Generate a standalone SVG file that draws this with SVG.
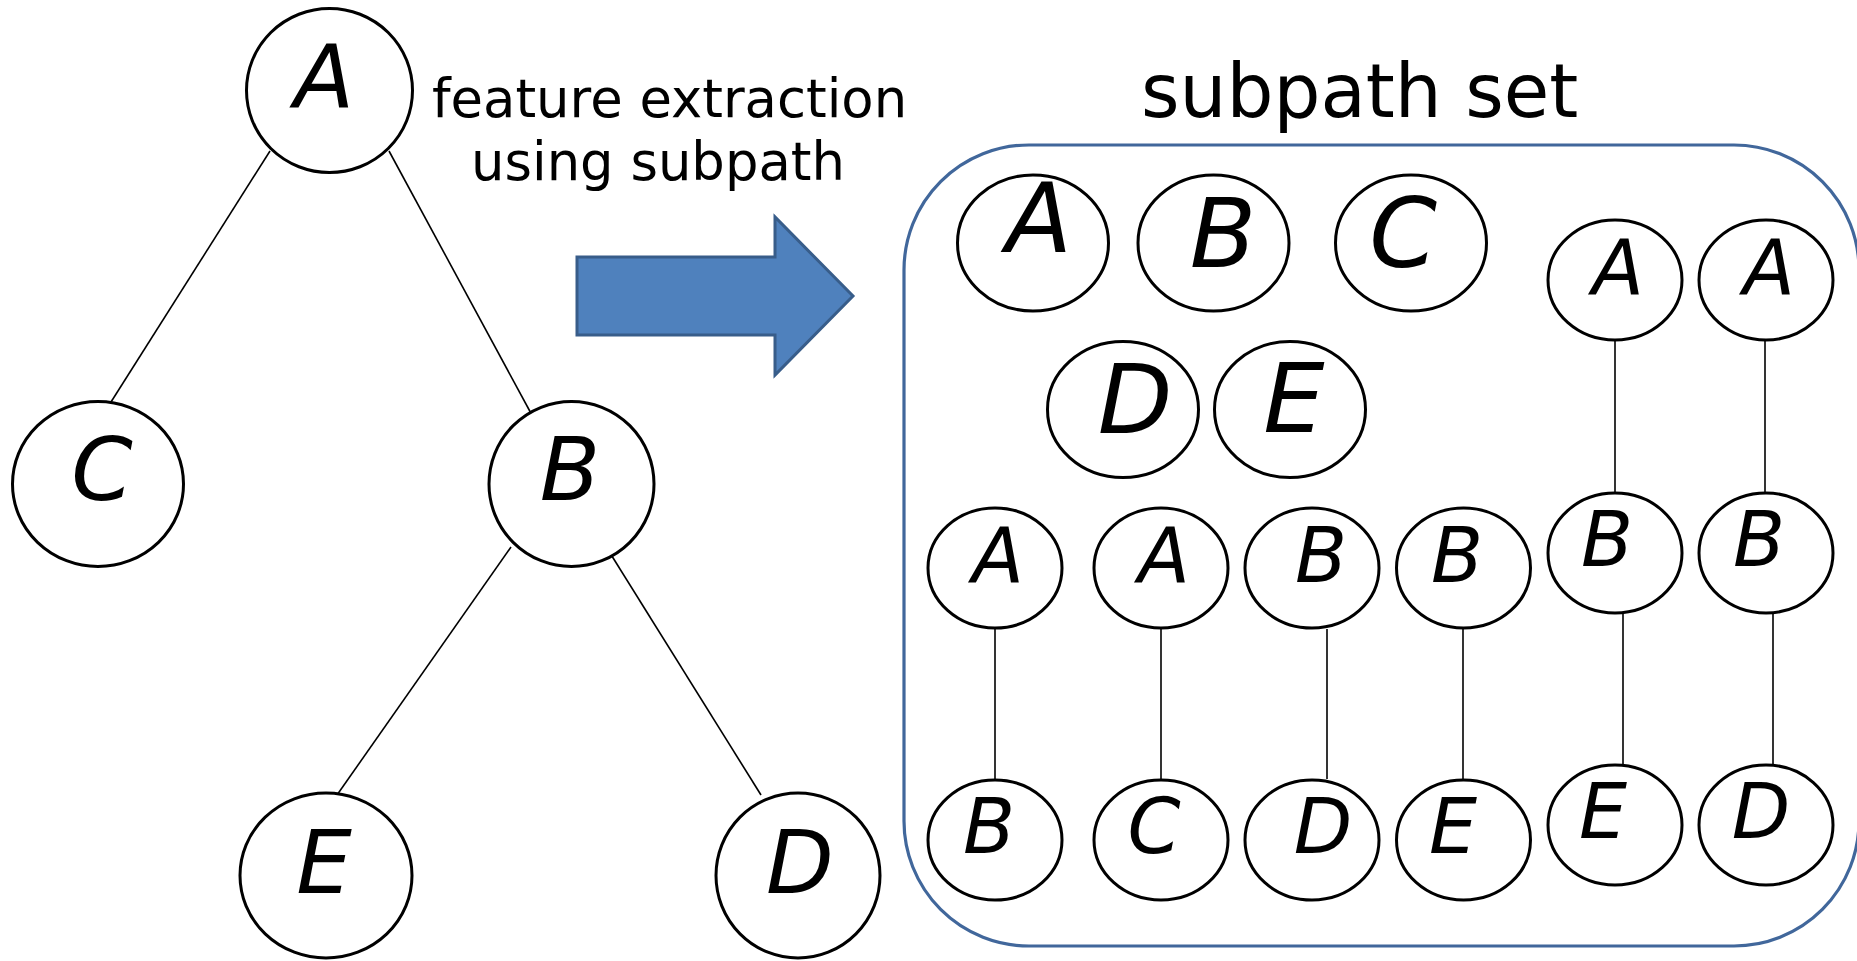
<svg xmlns="http://www.w3.org/2000/svg" width="1857" height="961" viewBox="0 0 1857 961">
  <style>
    .node { fill: #ffffff; stroke: #000000; stroke-width: 3; }
    .edge { stroke: #000000; stroke-width: 1.6; fill: none; }
    .lbl { font-family: "DejaVu Sans", Verdana, sans-serif; font-style: italic; fill: #000000; text-anchor: middle; }
    .big { font-size: 88px; }
    .mid { font-size: 97px; }
    .sm { font-size: 76px; }
    .cap { font-family: "DejaVu Sans", Verdana, sans-serif; fill: #000000; }
  </style>
  <rect width="1857" height="961" fill="#ffffff"/>

  <!-- connectors -->
  <g id="connectors">
    <line class="edge" x1="270" y1="151" x2="111" y2="402"/>
    <line class="edge" x1="389" y1="151" x2="533" y2="417"/>
    <line class="edge" x1="511" y1="547" x2="337" y2="795"/>
    <line class="edge" x1="610" y1="553" x2="761" y2="795"/>
    <line class="edge" x1="995" y1="629" x2="995" y2="779"/>
    <line class="edge" x1="1161" y1="629" x2="1161" y2="779"/>
    <line class="edge" x1="1327" y1="629" x2="1327" y2="779"/>
    <line class="edge" x1="1463" y1="629" x2="1463" y2="779"/>
    <line class="edge" x1="1615" y1="341" x2="1615" y2="492"/>
    <line class="edge" x1="1765" y1="341" x2="1765" y2="492"/>
    <line class="edge" x1="1623" y1="614" x2="1623" y2="764"/>
    <line class="edge" x1="1773" y1="614" x2="1773" y2="764"/>
  </g>

  <!-- input tree -->
  <g id="tree-A"><ellipse class="node" cx="329.5" cy="90.5" rx="83" ry="82"/><text class="lbl big" x="324" y="107">A</text></g>
  <g id="tree-C"><ellipse class="node" cx="98" cy="484" rx="85.5" ry="82.5"/><text class="lbl big" x="102" y="500">C</text></g>
  <g id="tree-B"><ellipse class="node" cx="571.5" cy="484" rx="82.5" ry="82.5"/><text class="lbl big" x="570" y="500">B</text></g>
  <g id="tree-E"><ellipse class="node" cx="326" cy="875.5" rx="86" ry="82.5"/><text class="lbl big" x="324" y="893">E</text></g>
  <g id="tree-D"><ellipse class="node" cx="798" cy="875.5" rx="82" ry="82.5"/><text class="lbl big" x="800" y="893">D</text></g>

  <!-- caption and arrow -->
  <g id="caption">
    <text class="cap" x="432" y="117" font-size="52.8">feature extraction</text>
    <text class="cap" x="471" y="180" font-size="52.8">using subpath</text>
  </g>
  <g id="arrow">
    <path d="M577,257 H775 V217 L853,296 L775,375 V335 H577 Z" fill="#4F81BD" stroke="#385D8A" stroke-width="3" stroke-linejoin="miter"/>
  </g>

  <!-- subpath set -->
  <g id="subpath-set">
    <text class="cap" x="1141" y="117" font-size="74">subpath set</text>
    <rect x="904" y="145" width="955" height="801" rx="125" ry="125" fill="none" stroke="#41679B" stroke-width="3.2"/>
  </g>

  <!-- single-node subpaths -->
  <g id="s-A"><ellipse class="node" cx="1033" cy="243" rx="75.5" ry="68"/><text class="lbl mid" x="1039" y="252">A</text></g>
  <g id="s-B"><ellipse class="node" cx="1213.5" cy="243" rx="75.5" ry="68"/><text class="lbl mid" x="1223" y="267">B</text></g>
  <g id="s-C"><ellipse class="node" cx="1411" cy="243" rx="75.5" ry="68"/><text class="lbl mid" x="1403" y="267">C</text></g>
  <g id="s-D"><ellipse class="node" cx="1123" cy="409.5" rx="75.5" ry="68"/><text class="lbl mid" x="1135" y="433">D</text></g>
  <g id="s-E"><ellipse class="node" cx="1290" cy="409.5" rx="75.5" ry="68"/><text class="lbl mid" x="1294" y="432">E</text></g>

  <!-- two-node subpaths -->
  <g id="p1-top"><ellipse class="node" cx="995" cy="568" rx="67" ry="60"/><text class="lbl sm" x="998" y="582">A</text></g>
  <g id="p1-bot"><ellipse class="node" cx="995" cy="840" rx="67" ry="60"/><text class="lbl sm" x="989" y="853">B</text></g>
  <g id="p2-top"><ellipse class="node" cx="1161" cy="568" rx="67" ry="60"/><text class="lbl sm" x="1164" y="582">A</text></g>
  <g id="p2-bot"><ellipse class="node" cx="1161" cy="840" rx="67" ry="60"/><text class="lbl sm" x="1154" y="853">C</text></g>
  <g id="p3-top"><ellipse class="node" cx="1312" cy="568" rx="67" ry="60"/><text class="lbl sm" x="1321" y="582">B</text></g>
  <g id="p3-bot"><ellipse class="node" cx="1312" cy="840" rx="67" ry="60"/><text class="lbl sm" x="1323" y="853">D</text></g>
  <g id="p4-top"><ellipse class="node" cx="1463.5" cy="568" rx="67" ry="60"/><text class="lbl sm" x="1457" y="582">B</text></g>
  <g id="p4-bot"><ellipse class="node" cx="1463.5" cy="840" rx="67" ry="60"/><text class="lbl sm" x="1453" y="853">E</text></g>

  <!-- three-node subpaths -->
  <g id="q1-top"><ellipse class="node" cx="1615" cy="280" rx="67" ry="60"/><text class="lbl sm" x="1618" y="294">A</text></g>
  <g id="q1-mid"><ellipse class="node" cx="1615" cy="553" rx="67" ry="60"/><text class="lbl sm" x="1607" y="566">B</text></g>
  <g id="q1-bot"><ellipse class="node" cx="1615" cy="825" rx="67" ry="60"/><text class="lbl sm" x="1603" y="838">E</text></g>
  <g id="q2-top"><ellipse class="node" cx="1766" cy="280" rx="67" ry="60"/><text class="lbl sm" x="1769" y="294">A</text></g>
  <g id="q2-mid"><ellipse class="node" cx="1766" cy="553" rx="67" ry="60"/><text class="lbl sm" x="1759" y="566">B</text></g>
  <g id="q2-bot"><ellipse class="node" cx="1766" cy="825" rx="67" ry="60"/><text class="lbl sm" x="1761" y="838">D</text></g>
</svg>
